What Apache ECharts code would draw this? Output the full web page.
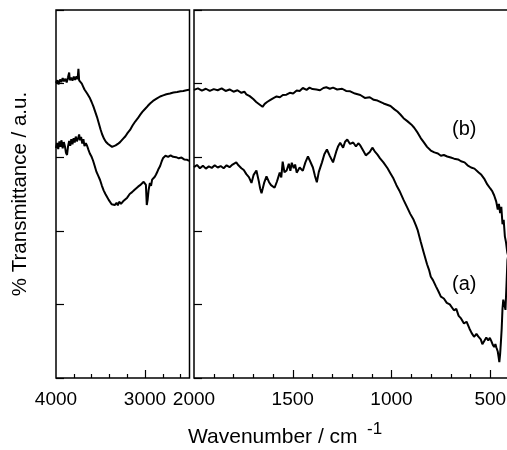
<!DOCTYPE html>
<html>
<head>
<meta charset="utf-8">
<script src="https://cdn.jsdelivr.net/npm/echarts@6/dist/echarts.min.js"></script>
<style>html,body{margin:0;padding:0;background:#fff}#c{width:507px;height:450px}</style>
</head>
<body>
<div id="c"></div>
<script>
// Wavenumber (cm-1), % transmittance (a.u., 0-100 frame)
const highB = [[4000,80.2],[3985,80.9],[3970,79.8],[3955,81.1],[3940,80.4],[3925,81.5],[3910,80.6],[3895,81.3],[3880,80.3],[3865,81.7],[3852,83.0],[3845,80.9],[3830,81.6],[3815,80.8],[3800,81.9],[3785,81.0],[3770,82.0],[3757,81.2],[3748,84.0],[3740,80.9],[3725,81.3],[3710,80.0],[3695,79.2],[3680,78.4],[3665,77.9],[3650,77.3],[3635,76.9],[3618,76.0],[3600,75.0],[3580,73.8],[3560,72.4],[3539,70.9],[3520,69.3],[3500,67.6],[3483,66.3],[3460,65.0],[3440,64.2],[3415,63.6],[3393,63.2],[3370,62.8],[3350,63.1],[3330,63.2],[3305,63.6],[3280,64.1],[3250,64.9],[3220,65.7],[3195,66.6],[3168,67.4],[3140,68.6],[3110,69.7],[3080,70.6],[3055,71.5],[3030,72.3],[3000,73.1],[2970,73.9],[2943,74.6],[2910,75.3],[2870,75.9],[2830,76.5],[2796,76.8],[2760,77.1],[2720,77.3],[2680,77.6],[2639,77.7],[2600,77.9],[2570,78.0],[2535,78.2],[2504,78.3]];
const highA = [[4000,62.5],[3988,63.9],[3975,62.2],[3962,64.3],[3950,62.8],[3938,64.6],[3925,62.4],[3912,64.1],[3900,63.0],[3888,61.2],[3876,60.6],[3865,62.9],[3852,64.4],[3840,63.1],[3828,64.9],[3815,63.5],[3802,65.2],[3790,64.0],[3778,65.6],[3765,64.3],[3752,65.1],[3740,66.2],[3730,64.6],[3718,65.5],[3705,63.7],[3692,64.9],[3680,63.0],[3665,63.8],[3651,63.1],[3635,62.0],[3620,61.0],[3600,60.1],[3584,59.1],[3565,57.6],[3545,56.0],[3525,54.9],[3505,53.8],[3485,52.3],[3465,51.0],[3445,50.0],[3426,49.2],[3408,48.4],[3390,48.0],[3375,47.2],[3359,47.7],[3340,47.0],[3320,47.6],[3305,46.9],[3290,47.9],[3270,47.3],[3246,48.0],[3225,48.5],[3200,49.0],[3172,50.0],[3145,50.5],[3120,51.1],[3100,51.5],[3078,52.0],[3055,52.4],[3035,52.9],[3015,53.3],[2999,53.6],[2990,52.5],[2980,47.0],[2970,48.5],[2960,51.0],[2945,53.0],[2932,52.2],[2920,53.9],[2905,54.3],[2890,54.7],[2876,55.3],[2864,55.9],[2848,56.8],[2830,57.6],[2812,58.9],[2796,59.8],[2770,60.4],[2740,60.1],[2712,60.5],[2684,60.1],[2650,60.0],[2620,59.7],[2590,59.9],[2560,59.4],[2526,59.3],[2504,59.0]];
const lowB = [[2000,78.3],[1980,78.7],[1960,78.1],[1940,78.6],[1920,78.0],[1900,78.5],[1880,78.2],[1860,78.7],[1840,78.0],[1820,78.4],[1800,77.8],[1780,78.2],[1760,77.5],[1745,77.8],[1735,77.1],[1718,76.6],[1700,75.8],[1685,75.0],[1670,74.4],[1660,74.0],[1653,73.7],[1642,74.5],[1630,75.0],[1615,75.5],[1600,76.0],[1582,76.5],[1565,76.3],[1550,76.9],[1532,77.0],[1515,77.5],[1498,77.3],[1480,78.1],[1465,78.0],[1449,78.8],[1430,78.3],[1415,78.9],[1400,78.5],[1380,78.4],[1362,78.2],[1345,78.8],[1330,79.0],[1312,78.6],[1296,78.9],[1275,78.4],[1250,78.6],[1230,78.0],[1209,77.9],[1185,77.3],[1158,76.9],[1135,76.1],[1110,76.3],[1090,75.6],[1071,75.4],[1040,74.6],[1005,73.9],[985,73.0],[970,72.4],[955,71.6],[939,70.6],[920,69.8],[900,68.9],[885,68.0],[867,66.6],[852,65.2],[837,64.1],[820,62.8],[801,61.8],[783,61.3],[765,61.0],[750,60.4],[735,60.6],[718,60.2],[700,59.9],[683,59.6],[663,59.4],[648,58.9],[630,58.6],[615,57.8],[597,57.2],[580,56.9],[560,55.9],[545,55.2],[531,54.2],[515,52.6],[500,51.5],[490,50.8],[480,49.6],[470,48.0],[462,45.8],[456,47.3],[450,44.8],[444,46.5],[438,41.8],[432,43.0],[426,38.5],[420,36.8],[414,34.2],[408,33.0]];
const lowA = [[2000,57.3],[1985,57.9],[1970,57.0],[1955,57.7],[1940,56.9],[1925,57.5],[1910,57.1],[1895,57.8],[1880,57.2],[1865,57.6],[1850,57.0],[1835,57.8],[1820,57.3],[1805,58.0],[1795,57.5],[1786,58.6],[1775,57.8],[1760,57.0],[1748,56.5],[1735,55.4],[1722,54.6],[1709,53.0],[1698,55.2],[1684,56.4],[1672,53.5],[1665,51.5],[1658,50.2],[1645,53.0],[1633,54.8],[1620,53.2],[1610,52.4],[1600,52.8],[1592,51.7],[1580,53.4],[1566,55.8],[1558,54.5],[1551,58.8],[1542,55.9],[1531,56.4],[1520,58.2],[1512,56.3],[1505,58.5],[1495,57.0],[1488,58.0],[1480,55.8],[1465,57.2],[1449,56.3],[1436,58.6],[1423,60.2],[1412,58.9],[1398,57.2],[1388,55.0],[1378,53.2],[1368,56.0],[1352,58.6],[1340,60.8],[1327,62.1],[1312,60.3],[1296,58.6],[1280,61.5],[1270,63.0],[1260,63.9],[1245,62.6],[1235,64.2],[1224,64.8],[1210,63.6],[1194,64.0],[1180,62.9],[1168,63.8],[1158,63.2],[1140,61.5],[1130,60.5],[1123,60.0],[1110,61.4],[1097,62.6],[1085,61.6],[1071,60.7],[1058,59.7],[1041,58.6],[1020,57.0],[1005,55.6],[990,54.2],[975,52.4],[960,50.9],[939,48.4],[920,46.3],[905,44.6],[888,43.0],[876,41.4],[867,40.1],[852,37.0],[837,34.1],[820,30.9],[810,29.4],[801,27.5],[790,26.6],[775,24.9],[762,23.5],[750,22.1],[735,21.6],[720,20.4],[705,20.0],[684,18.4],[672,18.8],[660,16.9],[648,16.2],[633,14.8],[620,15.3],[605,13.4],[594,12.2],[582,11.2],[570,12.0],[561,11.3],[548,10.5],[540,9.2],[531,9.6],[520,11.0],[510,10.2],[502,10.9],[495,10.1],[487,9.0],[480,8.4],[474,9.2],[469,8.3],[462,7.2],[458,5.8],[454,4.3],[450,6.5],[446,9.8],[442,13.5],[438,18.8],[434,21.3],[428,19.8],[423,18.5],[418,25.0],[413,32.0],[408,33.6]];

const labelsHigh = [4000, 3000];
const minorTicksHigh = [3800, 3600, 3400, 3200, 2800, 2600];
const majorTicksHigh = [3000];
const labelsLow = [2000, 1500, 1000, 500];
const minorTicksLow = [1900, 1800, 1700, 1600, 1400, 1300, 1200, 1100, 900, 800, 700, 600];
const majorTicksLow = [1500, 1000, 500];

const FONT = 'Liberation Sans, Arial, Helvetica, sans-serif';
const chart = echarts.init(document.getElementById('c'), null, {renderer: 'canvas'});

function xAx(grid, min, max, labels, ticks, tickLen, showLabels) {
  return {
    gridIndex: grid, type: 'value', inverse: true, min: min, max: max,
    position: 'bottom', offset: 0,
    axisLine: {show: false},
    splitLine: {show: false},
    axisTick: {show: true, inside: true, length: tickLen, customValues: ticks,
               lineStyle: {color: '#000', width: 1.2}},
    axisLabel: {show: showLabels, customValues: labels, fontSize: 19, margin: 12,
                color: '#000', fontFamily: FONT, formatter: v => String(v)}
  };
}
function yAx(grid, name) {
  return {
    gridIndex: grid, type: 'value', min: 0, max: 100, interval: 20,
    axisLine: {show: false}, splitLine: {show: false},
    axisTick: {show: true, inside: true, length: 8, lineStyle: {color: '#000', width: 1.2}},
    axisLabel: {show: false},
    name: name, nameLocation: 'middle', nameRotate: 90, nameGap: 25,
    nameTextStyle: {fontSize: 20.5, color: '#000', fontFamily: FONT}
  };
}
const lineStyle = {color: '#000', width: 2};
function ser(x, y, data) {
  return {type: 'line', xAxisIndex: x, yAxisIndex: y, data: data, showSymbol: false,
          symbol: 'none', lineStyle: lineStyle, animation: false, silent: true};
}

chart.setOption({
  backgroundColor: '#fff',
  animation: false,
  grid: [
    {left: 56, top: 10, width: 133.5, height: 368, show: true, borderColor: '#000', borderWidth: 1.5, outerBoundsMode: 'none', containLabel: false},
    {left: 194, top: 10, width: 316, height: 368, show: true, borderColor: '#000', borderWidth: 1.5, outerBoundsMode: 'none', containLabel: false}
  ],
  xAxis: [
    xAx(0, 2500, 4000, labelsHigh, minorTicksHigh, 4, true),
    xAx(0, 2500, 4000, labelsHigh, majorTicksHigh, 8, false),
    xAx(1, 400, 2000, labelsLow, minorTicksLow, 4, true),
    xAx(1, 400, 2000, labelsLow, majorTicksLow, 8, false)
  ],
  yAxis: [yAx(0, '% Transmittance / a.u.'), yAx(1, '')],
  series: [
    ser(0, 0, highB), ser(0, 0, highA),
    ser(2, 1, lowB), ser(2, 1, lowA)
  ],
  graphic: [
    {type: 'text', left: 188, top: 427, style: {text: 'Wavenumber / cm', fontSize: 21, fill: '#000', fontFamily: FONT}},
    {type: 'text', left: 367, top: 421, style: {text: '-1', fontSize: 17, fill: '#000', fontFamily: FONT}},
    {type: 'text', left: 452, top: 119, style: {text: '(b)', fontSize: 20, fill: '#000', fontFamily: FONT}},
    {type: 'text', left: 452, top: 274, style: {text: '(a)', fontSize: 20, fill: '#000', fontFamily: FONT}}
  ]
});
</script>
</body>
</html>
